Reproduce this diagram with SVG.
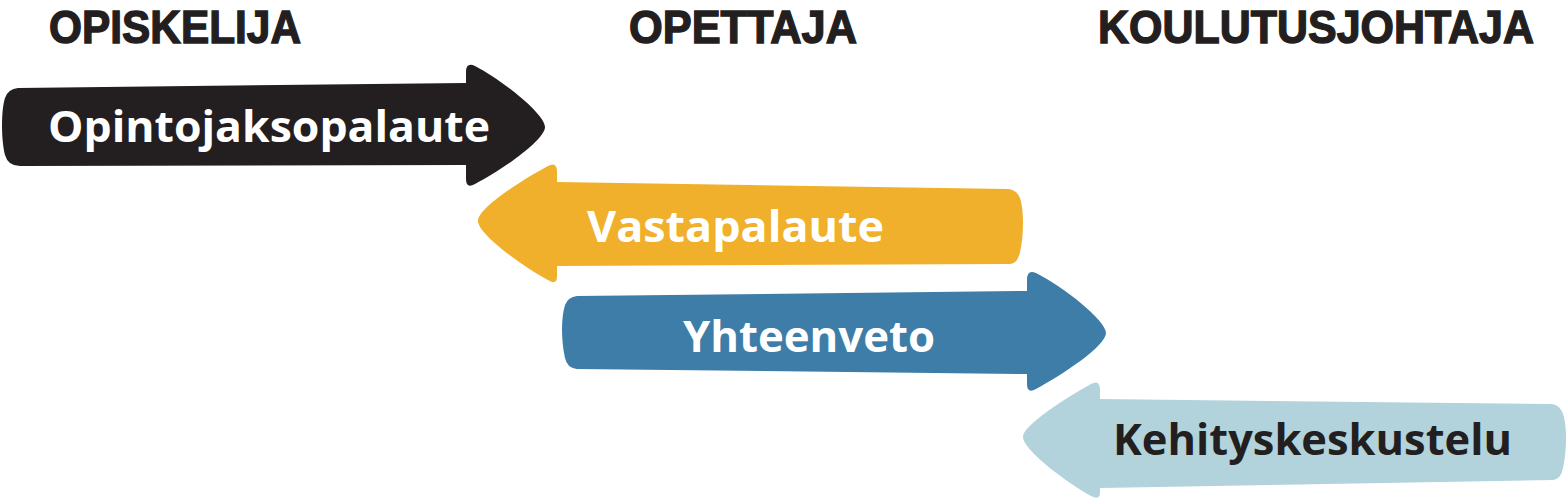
<svg xmlns="http://www.w3.org/2000/svg" width="1567" height="501" viewBox="0 0 1567 501">
  <style>
    .hdr { font-family: "Liberation Sans", Arial, sans-serif; font-weight: 700; font-size: 46px; fill: #231F20; stroke: #231F20; stroke-width: 1.4px; }
    .lbl { font-family: "Open Sans", "Liberation Sans", sans-serif; font-weight: 700; font-size: 43px; }
    .w { fill: #FFFFFF; }
    .d { fill: #231F20; }
  </style>
  <rect width="1567" height="501" fill="#FFFFFF"/>
  <g id="headers">
    <text class="hdr" x="49" y="43" textLength="252" lengthAdjust="spacingAndGlyphs">OPISKELIJA</text>
    <text class="hdr" x="629" y="43" textLength="228" lengthAdjust="spacingAndGlyphs">OPETTAJA</text>
    <text class="hdr" x="1098" y="43" textLength="436" lengthAdjust="spacingAndGlyphs">KOULUTUSJOHTAJA</text>
  </g>
  <g id="connectors">
    <g id="opintojaksopalaute">
      <path fill="#231F20" d="M 466,83 L 466,72 Q 466,62 475,66 C 502,80 545,114 545,127 C 545,140 502,170 475,184 Q 466,189 466,179 L 466,165 L 20,166 Q 8,166 5,155 C 1,140 1,110 5,98 Q 8,89 18,88 Z"/>
      <text class="lbl w" x="48" y="142" textLength="442" lengthAdjust="spacingAndGlyphs">Opintojaksopalaute</text>
    </g>
    <g id="vastapalaute">
      <path fill="#F1B02C" d="M 557,182 L 557,172 Q 557,161 548,166 C 522,180 478,208 478,221 C 478,234 522,266 548,280 Q 557,286 557,276 L 557,266 L 1010,264 Q 1018,263 1020,252 C 1024,235 1024,210 1020,198 Q 1017,190 1008,189 Z"/>
      <text class="lbl w" x="587" y="242" textLength="297" lengthAdjust="spacingAndGlyphs">Vastapalaute</text>
    </g>
    <g id="yhteenveto">
      <path fill="#3D7DA8" d="M 1027,291 L 1027,280 Q 1027,269 1036,273 C 1062,286 1106,320 1106,333 C 1106,346 1062,375 1036,389 Q 1027,394 1027,384 L 1027,374 L 577,369 Q 567,368 565,358 C 561,340 561,318 565,305 Q 568,297 577,296 Z"/>
      <text class="lbl w" x="683" y="352" textLength="252" lengthAdjust="spacingAndGlyphs">Yhteenveto</text>
    </g>
    <g id="kehityskeskustelu">
      <path fill="#B2D3DC" d="M 1100,399 L 1100,390 Q 1100,379 1091,384 C 1066,398 1023,425 1023,437 C 1023,450 1066,482 1091,496 Q 1100,501 1100,492 L 1100,488 L 1553,480 Q 1561,479 1563,468 C 1567,450 1567,425 1563,414 Q 1560,405 1552,404 Z"/>
      <text class="lbl d" x="1113" y="455" textLength="399" lengthAdjust="spacingAndGlyphs">Kehityskeskustelu</text>
    </g>
  </g>
</svg>
